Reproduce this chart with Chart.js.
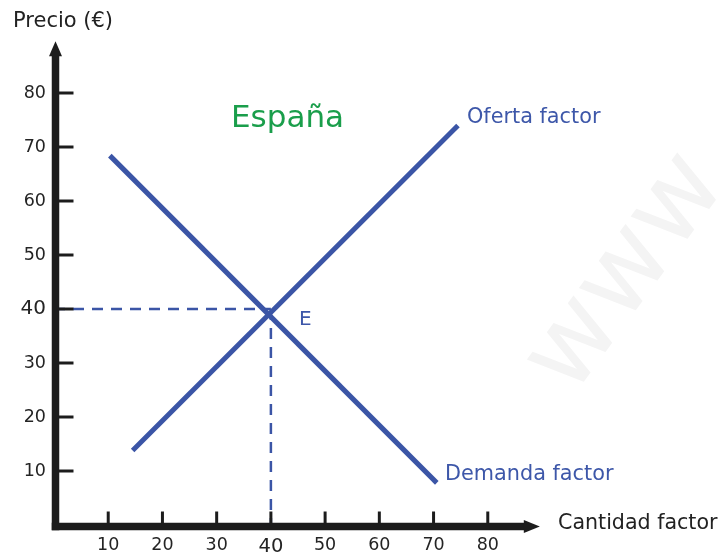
<!DOCTYPE html>
<html><head><meta charset="utf-8">
<script src="https://cdn.jsdelivr.net/npm/chart.js@4/dist/chart.umd.min.js"></script>
<style>html,body{margin:0;padding:0;background:#fff}#wrap{width:722px;height:552px}</style>
</head><body><div id="wrap"><canvas id="c" width="722" height="552"></canvas></div>
<script>
// ---- data ----
const tickValues = [10, 20, 30, 40, 50, 60, 70, 80];
const supplyQty = [14.5, 74.5];
const supplyPrice = [13.8, 74];
const demandQty = [10.3, 70.6];
const demandPrice = [68.4, 7.8];
const eqQty = 40;
const eqPrice = 40;
const axisMin = 0;
const axisMax = 90;
const arrowTipValue = 89.6;
const titleText = 'España';
const supplyLabel = 'Oferta factor';
const demandLabel = 'Demanda factor';
const eqLabel = 'E';
const yAxisTitle = 'Precio (€)';
const xAxisTitle = 'Cantidad factor';
const watermarkText = 'www';

// ---- styles ----
const FONT = 'DejaVu Sans';
const BLUE = '#3b55a6';
const TEXTBLUE = '#3d57a9';
const GREEN = '#1a9e4b';
const AXIS = '#1c1c1c';
const TICKTXT = '#242424';

const toPts = (xs, ys) => xs.map((v, i) => ({x: v, y: ys[i]}));

const drawPlugin = {
  id: 'econ',
  beforeDraw(chart) {
    const {ctx} = chart;
    ctx.save();
    ctx.translate(572, 398);
    ctx.rotate(-54 * Math.PI / 180);
    ctx.font = `108px ${FONT}`;
    ctx.fillStyle = '#f4f4f4';
    ctx.textBaseline = 'alphabetic';
    ctx.fillText(watermarkText, 0, 0);
    ctx.restore();
  },
  afterDatasetsDraw(chart) {
    const {ctx, scales: {x, y}} = chart;
    const x0 = x.getPixelForValue(0) + 1.5;
    const y0 = y.getPixelForValue(0) + 1.5;
    const tipX = x.getPixelForValue(arrowTipValue);
    const tipY = y.getPixelForValue(arrowTipValue);
    ctx.save();
    ctx.strokeStyle = AXIS;
    ctx.fillStyle = AXIS;
    ctx.lineCap = 'butt';
    // tick marks
    ctx.lineWidth = 3;
    tickValues.forEach(v => {
      const px = x.getPixelForValue(v);
      ctx.beginPath(); ctx.moveTo(px, y0 - 15); ctx.lineTo(px, y0); ctx.stroke();
      const py = y.getPixelForValue(v);
      ctx.beginPath(); ctx.moveTo(x0, py); ctx.lineTo(x0 + 18, py); ctx.stroke();
    });
    // axis lines
    ctx.lineWidth = 7.5;
    ctx.beginPath(); ctx.moveTo(x0, y0 + 3.75); ctx.lineTo(x0, tipY + 12); ctx.stroke();
    ctx.beginPath(); ctx.moveTo(x0 - 3.75, y0); ctx.lineTo(tipX - 14, y0); ctx.stroke();
    // arrowheads
    ctx.beginPath();
    ctx.moveTo(x0, tipY); ctx.lineTo(x0 + 6.5, tipY + 15); ctx.lineTo(x0 - 6.5, tipY + 15); ctx.closePath(); ctx.fill();
    ctx.beginPath();
    ctx.moveTo(tipX, y0); ctx.lineTo(tipX - 16, y0 - 6.5); ctx.lineTo(tipX - 16, y0 + 6.5); ctx.closePath(); ctx.fill();

    // texts
    ctx.textBaseline = 'alphabetic';
    ctx.textAlign = 'left';
    ctx.fillStyle = '#222';
    ctx.font = `21px ${FONT}`;
    ctx.fillText(yAxisTitle, 13, 27);
    ctx.font = `20.6px ${FONT}`;
    ctx.fillText(xAxisTitle, 558, 529);
    ctx.fillStyle = GREEN;
    ctx.font = `31px ${FONT}`;
    ctx.fillText(titleText, 231, 127);
    ctx.fillStyle = TEXTBLUE;
    ctx.font = `20.8px ${FONT}`;
    ctx.fillText(supplyLabel, 467, 123);
    ctx.fillText(demandLabel, 445, 480);
    ctx.font = `20px ${FONT}`;
    ctx.fillText(eqLabel, 299, 325);
    ctx.restore();
  }
};

new Chart(document.getElementById('c'), {
  type: 'scatter',
  data: {
    datasets: [
      {data: [{x: axisMin, y: eqPrice}, {x: eqQty, y: eqPrice}], showLine: true, borderColor: BLUE, borderWidth: 2.5, borderDash: [11, 8], pointRadius: 0},
      {data: [{x: eqQty, y: eqPrice}, {x: eqQty, y: axisMin}], showLine: true, borderColor: BLUE, borderWidth: 2.5, borderDash: [11, 8], pointRadius: 0},
      {label: supplyLabel, data: toPts(supplyQty, supplyPrice), showLine: true, borderColor: BLUE, borderWidth: 5, pointRadius: 0, borderCapStyle: 'butt'},
      {label: demandLabel, data: toPts(demandQty, demandPrice), showLine: true, borderColor: BLUE, borderWidth: 5, pointRadius: 0, borderCapStyle: 'butt'}
    ]
  },
  options: {
    responsive: false,
    animation: false,
    devicePixelRatio: 1,
    layout: {padding: {top: 39, right: 180, left: 0, bottom: 0}},
    plugins: {legend: {display: false}, tooltip: {enabled: false}},
    scales: {
      x: {
        type: 'linear', min: axisMin, max: axisMax,
        afterBuildTicks: s => { s.ticks = tickValues.map(v => ({value: v})); },
        afterFit: s => { s.height = 27; },
        grid: {display: false, drawTicks: false},
        border: {display: false},
        ticks: {
          padding: 10, color: TICKTXT, maxRotation: 0, autoSkip: false,
          font: c => ({family: FONT, size: (c.tick && c.tick.value === eqQty) ? 19.5 : 17.5})
        }
      },
      y: {
        type: 'linear', min: axisMin, max: axisMax,
        afterBuildTicks: s => { s.ticks = tickValues.map(v => ({value: v})); },
        afterFit: s => { s.width = 54; },
        grid: {display: false, drawTicks: false},
        border: {display: false},
        ticks: {
          padding: 8, color: TICKTXT, autoSkip: false,
          font: c => ({family: FONT, size: (c.tick && c.tick.value === eqPrice) ? 20 : 17.5})
        }
      }
    }
  },
  plugins: [drawPlugin]
});
</script>
</body></html>
